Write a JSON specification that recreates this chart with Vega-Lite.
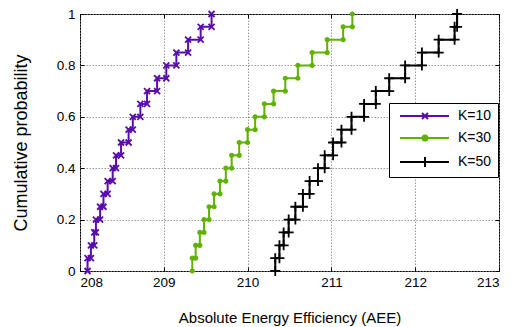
{
  "$schema": "https://vega.github.io/schema/vega-lite/v6.json",
  "width": 419,
  "height": 257,
  "autosize": {"type": "none"},
  "padding": {"left": 80, "top": 14, "right": 15, "bottom": 56},
  "background": "white",
  "config": {
    "font": "Liberation Sans",
    "view": {"stroke": "black", "strokeWidth": 1},
    "axis": {
      "labelFont": "Liberation Sans",
      "labelFontSize": 13.5,
      "labelColor": "black",
      "titleFont": "Liberation Sans",
      "titleFontWeight": "normal",
      "titleColor": "black",
      "gridColor": "#7f7f7f",
      "gridDash": [1.5, 1.5],
      "gridWidth": 0.8,
      "gridOpacity": 1,
      "tickColor": "black",
      "domain": false
    }
  },
  "data": {
    "values": [
      {"s": "K=10", "x": 208.09, "p": 0, "o": 1}, {"s": "K=10", "x": 208.09, "p": 0.05, "o": 2},
      {"s": "K=10", "x": 208.13, "p": 0.05, "o": 3}, {"s": "K=10", "x": 208.13, "p": 0.1, "o": 4},
      {"s": "K=10", "x": 208.17, "p": 0.1, "o": 5}, {"s": "K=10", "x": 208.17, "p": 0.15, "o": 6},
      {"s": "K=10", "x": 208.19, "p": 0.15, "o": 7}, {"s": "K=10", "x": 208.19, "p": 0.2, "o": 8},
      {"s": "K=10", "x": 208.24, "p": 0.2, "o": 9}, {"s": "K=10", "x": 208.24, "p": 0.25, "o": 10},
      {"s": "K=10", "x": 208.28, "p": 0.25, "o": 11}, {"s": "K=10", "x": 208.28, "p": 0.3, "o": 12},
      {"s": "K=10", "x": 208.33, "p": 0.3, "o": 13}, {"s": "K=10", "x": 208.33, "p": 0.35, "o": 14},
      {"s": "K=10", "x": 208.39, "p": 0.35, "o": 15}, {"s": "K=10", "x": 208.39, "p": 0.4, "o": 16},
      {"s": "K=10", "x": 208.43, "p": 0.4, "o": 17}, {"s": "K=10", "x": 208.43, "p": 0.45, "o": 18},
      {"s": "K=10", "x": 208.49, "p": 0.45, "o": 19}, {"s": "K=10", "x": 208.49, "p": 0.5, "o": 20},
      {"s": "K=10", "x": 208.58, "p": 0.5, "o": 21}, {"s": "K=10", "x": 208.58, "p": 0.55, "o": 22},
      {"s": "K=10", "x": 208.63, "p": 0.55, "o": 23}, {"s": "K=10", "x": 208.63, "p": 0.6, "o": 24},
      {"s": "K=10", "x": 208.72, "p": 0.6, "o": 25}, {"s": "K=10", "x": 208.72, "p": 0.65, "o": 26},
      {"s": "K=10", "x": 208.8, "p": 0.65, "o": 27}, {"s": "K=10", "x": 208.8, "p": 0.7, "o": 28},
      {"s": "K=10", "x": 208.92, "p": 0.7, "o": 29}, {"s": "K=10", "x": 208.92, "p": 0.75, "o": 30},
      {"s": "K=10", "x": 209.03, "p": 0.75, "o": 31}, {"s": "K=10", "x": 209.03, "p": 0.8, "o": 32},
      {"s": "K=10", "x": 209.15, "p": 0.8, "o": 33}, {"s": "K=10", "x": 209.15, "p": 0.85, "o": 34},
      {"s": "K=10", "x": 209.29, "p": 0.85, "o": 35}, {"s": "K=10", "x": 209.29, "p": 0.9, "o": 36},
      {"s": "K=10", "x": 209.44, "p": 0.9, "o": 37}, {"s": "K=10", "x": 209.44, "p": 0.95, "o": 38},
      {"s": "K=10", "x": 209.57, "p": 0.95, "o": 39}, {"s": "K=10", "x": 209.57, "p": 1, "o": 40},

      {"s": "K=30", "x": 209.34, "p": 0, "o": 1}, {"s": "K=30", "x": 209.34, "p": 0.05, "o": 2},
      {"s": "K=30", "x": 209.38, "p": 0.05, "o": 3}, {"s": "K=30", "x": 209.38, "p": 0.1, "o": 4},
      {"s": "K=30", "x": 209.43, "p": 0.1, "o": 5}, {"s": "K=30", "x": 209.43, "p": 0.15, "o": 6},
      {"s": "K=30", "x": 209.48, "p": 0.15, "o": 7}, {"s": "K=30", "x": 209.48, "p": 0.2, "o": 8},
      {"s": "K=30", "x": 209.54, "p": 0.2, "o": 9}, {"s": "K=30", "x": 209.54, "p": 0.25, "o": 10},
      {"s": "K=30", "x": 209.6, "p": 0.25, "o": 11}, {"s": "K=30", "x": 209.6, "p": 0.3, "o": 12},
      {"s": "K=30", "x": 209.67, "p": 0.3, "o": 13}, {"s": "K=30", "x": 209.67, "p": 0.35, "o": 14},
      {"s": "K=30", "x": 209.74, "p": 0.35, "o": 15}, {"s": "K=30", "x": 209.74, "p": 0.4, "o": 16},
      {"s": "K=30", "x": 209.81, "p": 0.4, "o": 17}, {"s": "K=30", "x": 209.81, "p": 0.45, "o": 18},
      {"s": "K=30", "x": 209.9, "p": 0.45, "o": 19}, {"s": "K=30", "x": 209.9, "p": 0.5, "o": 20},
      {"s": "K=30", "x": 210.0, "p": 0.5, "o": 21}, {"s": "K=30", "x": 210.0, "p": 0.55, "o": 22},
      {"s": "K=30", "x": 210.09, "p": 0.55, "o": 23}, {"s": "K=30", "x": 210.09, "p": 0.6, "o": 24},
      {"s": "K=30", "x": 210.2, "p": 0.6, "o": 25}, {"s": "K=30", "x": 210.2, "p": 0.65, "o": 26},
      {"s": "K=30", "x": 210.31, "p": 0.65, "o": 27}, {"s": "K=30", "x": 210.31, "p": 0.7, "o": 28},
      {"s": "K=30", "x": 210.45, "p": 0.7, "o": 29}, {"s": "K=30", "x": 210.45, "p": 0.75, "o": 30},
      {"s": "K=30", "x": 210.6, "p": 0.75, "o": 31}, {"s": "K=30", "x": 210.6, "p": 0.8, "o": 32},
      {"s": "K=30", "x": 210.77, "p": 0.8, "o": 33}, {"s": "K=30", "x": 210.77, "p": 0.85, "o": 34},
      {"s": "K=30", "x": 210.95, "p": 0.85, "o": 35}, {"s": "K=30", "x": 210.95, "p": 0.9, "o": 36},
      {"s": "K=30", "x": 211.14, "p": 0.9, "o": 37}, {"s": "K=30", "x": 211.14, "p": 0.95, "o": 38},
      {"s": "K=30", "x": 211.25, "p": 0.95, "o": 39}, {"s": "K=30", "x": 211.25, "p": 1, "o": 40},

      {"s": "K=50", "x": 210.33, "p": 0, "o": 1}, {"s": "K=50", "x": 210.33, "p": 0.05, "o": 2},
      {"s": "K=50", "x": 210.38, "p": 0.05, "o": 3}, {"s": "K=50", "x": 210.38, "p": 0.1, "o": 4},
      {"s": "K=50", "x": 210.43, "p": 0.1, "o": 5}, {"s": "K=50", "x": 210.43, "p": 0.15, "o": 6},
      {"s": "K=50", "x": 210.49, "p": 0.15, "o": 7}, {"s": "K=50", "x": 210.49, "p": 0.2, "o": 8},
      {"s": "K=50", "x": 210.57, "p": 0.2, "o": 9}, {"s": "K=50", "x": 210.57, "p": 0.25, "o": 10},
      {"s": "K=50", "x": 210.66, "p": 0.25, "o": 11}, {"s": "K=50", "x": 210.66, "p": 0.3, "o": 12},
      {"s": "K=50", "x": 210.74, "p": 0.3, "o": 13}, {"s": "K=50", "x": 210.74, "p": 0.35, "o": 14},
      {"s": "K=50", "x": 210.84, "p": 0.35, "o": 15}, {"s": "K=50", "x": 210.84, "p": 0.4, "o": 16},
      {"s": "K=50", "x": 210.92, "p": 0.4, "o": 17}, {"s": "K=50", "x": 210.92, "p": 0.45, "o": 18},
      {"s": "K=50", "x": 211.02, "p": 0.45, "o": 19}, {"s": "K=50", "x": 211.02, "p": 0.5, "o": 20},
      {"s": "K=50", "x": 211.12, "p": 0.5, "o": 21}, {"s": "K=50", "x": 211.12, "p": 0.55, "o": 22},
      {"s": "K=50", "x": 211.24, "p": 0.55, "o": 23}, {"s": "K=50", "x": 211.24, "p": 0.6, "o": 24},
      {"s": "K=50", "x": 211.39, "p": 0.6, "o": 25}, {"s": "K=50", "x": 211.39, "p": 0.65, "o": 26},
      {"s": "K=50", "x": 211.53, "p": 0.65, "o": 27}, {"s": "K=50", "x": 211.53, "p": 0.7, "o": 28},
      {"s": "K=50", "x": 211.69, "p": 0.7, "o": 29}, {"s": "K=50", "x": 211.69, "p": 0.75, "o": 30},
      {"s": "K=50", "x": 211.88, "p": 0.75, "o": 31}, {"s": "K=50", "x": 211.88, "p": 0.8, "o": 32},
      {"s": "K=50", "x": 212.08, "p": 0.8, "o": 33}, {"s": "K=50", "x": 212.08, "p": 0.85, "o": 34},
      {"s": "K=50", "x": 212.28, "p": 0.85, "o": 35}, {"s": "K=50", "x": 212.28, "p": 0.9, "o": 36},
      {"s": "K=50", "x": 212.47, "p": 0.9, "o": 37}, {"s": "K=50", "x": 212.47, "p": 0.95, "o": 38},
      {"s": "K=50", "x": 212.5, "p": 0.95, "o": 39}, {"s": "K=50", "x": 212.5, "p": 1, "o": 40}
    ]
  },
  "layer": [
    {
      "mark": {"type": "line", "strokeWidth": 2, "interpolate": "linear"},
      "encoding": {
        "x": {
          "field": "x", "type": "quantitative",
          "scale": {"domain": [208, 213], "nice": false, "zero": false},
          "axis": {
            "title": "Absolute Energy Efficiency (AEE)",
            "titleFontSize": 15,
            "values": [208, 209, 210, 211, 212, 213],
            "format": "d",
            "grid": true,
            "tickSize": -4,
            "labelPadding": 8,
            "titlePadding": 22
          }
        },
        "y": {
          "field": "p", "type": "quantitative",
          "scale": {"domain": [0, 1], "nice": false},
          "axis": {
            "title": "Cumulative probability",
            "titleFontSize": 18,
            "values": [0, 0.2, 0.4, 0.6, 0.8, 1],
            "format": "~g",
            "grid": true,
            "tickSize": -4,
            "labelPadding": 9,
            "titlePadding": 26
          }
        },
        "color": {
          "field": "s", "type": "nominal",
          "scale": {"domain": ["K=10", "K=30", "K=50"], "range": ["#5a0cad", "#5fb200", "#000000"]},
          "legend": {
            "title": null,
            "orient": "none",
            "legendX": 309,
            "legendY": 89,
            "padding": 6,
            "strokeColor": "black",
            "fillColor": "white",
            "cornerRadius": 0,
            "symbolSize": 100,
            "symbolStrokeWidth": 2,
            "labelFont": "Liberation Sans",
            "labelFontSize": 14,
            "labelColor": "black",
            "labelOffset": 49,
            "rowPadding": 8,
            "encode": {
              "symbols": {
                "update": {
                  "shape": {"signal": "datum.value === 'K=10' ? 'M-0.4,0H9.4M4,-0.6L5.2,0.6M4,0.6L5.2,-0.6' : datum.value === 'K=30' ? 'M-0.4,0H9.4M5.1,0A0.5,0.5 0 1 1 4.1,0A0.5,0.5 0 1 1 5.1,0Z' : 'M-0.4,0H9.4M4.6,-1V1'"},
                  "fill": {"scale": "color", "field": "value"}
                }
              }
            }
          }
        },
        "order": {"field": "o", "type": "quantitative"}
      }
    },
    {
      "transform": [{"filter": "datum.s === 'K=10'"}],
      "mark": {"type": "point", "shape": "M-0.6,-0.6L0.6,0.6M-0.6,0.6L0.6,-0.6", "size": 100, "filled": false, "color": "#5a0cad", "strokeWidth": 1.8, "opacity": 1},
      "encoding": {
        "x": {"field": "x", "type": "quantitative", "axis": null},
        "y": {"field": "p", "type": "quantitative", "axis": null}
      }
    },
    {
      "transform": [{"filter": "datum.s === 'K=30'"}],
      "mark": {"type": "point", "shape": "circle", "size": 16, "filled": true, "color": "#5fb200", "stroke": "#5fb200", "strokeWidth": 1.2, "opacity": 1},
      "encoding": {
        "x": {"field": "x", "type": "quantitative", "axis": null},
        "y": {"field": "p", "type": "quantitative", "axis": null}
      }
    },
    {
      "transform": [{"filter": "datum.s === 'K=50'"}],
      "mark": {"type": "point", "shape": "M-1,0H1M0,-1V1", "size": 100, "filled": false, "color": "#000000", "strokeWidth": 1.8, "opacity": 1},
      "encoding": {
        "x": {
          "field": "x", "type": "quantitative",
          "axis": {"orient": "top", "labels": false, "title": null, "grid": false, "tickSize": -4, "values": [208, 209, 210, 211, 212, 213]}
        },
        "y": {
          "field": "p", "type": "quantitative",
          "axis": {"orient": "right", "labels": false, "title": null, "grid": false, "tickSize": -4, "values": [0, 0.2, 0.4, 0.6, 0.8, 1]}
        }
      }
    }
  ],
  "resolve": {"axis": {"x": "independent", "y": "independent"}}
}
